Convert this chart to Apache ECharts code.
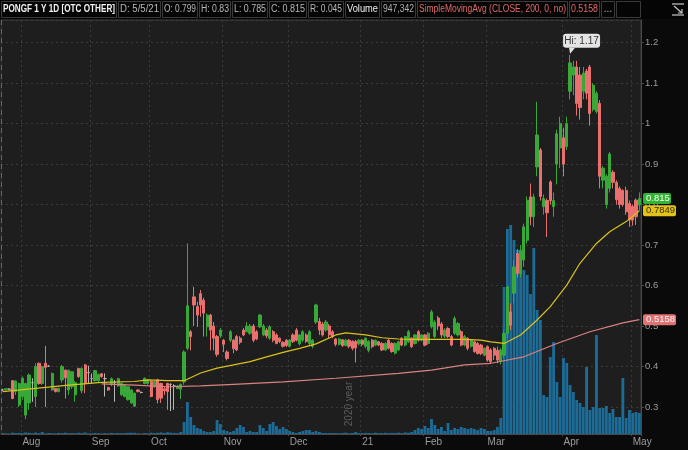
<!DOCTYPE html>
<html><head><meta charset="utf-8">
<script src="https://cdn.jsdelivr.net/npm/echarts@6/dist/echarts.min.js"></script>
<style>html,body{margin:0;padding:0;background:#0a0a0a;}#c{width:688px;height:450px;}</style>
</head><body><div id="c"></div>
<script>
// ---- data ----
// candles: [open, close, low, high], one per trading day (Jul 24 2020 .. May 5 2021)
const candles = [
[.342,.342,.340,.345],[.343,.345,.341,.346],[.344,.344,.342,.346],[.365,.321,.319,.366],[.338,.364,.330,.366],
[.305,.358,.300,.360],[.326,.371,.318,.375],[.280,.358,.270,.360],[.310,.379,.293,.383],[.360,.360,.313,.371],
[.326,.400,.300,.408],[.408,.358,.355,.410],[.358,.400,.355,.402],[.408,.398,.300,.451],[.401,.401,.399,.403],
[.342,.383,.340,.385],[.346,.338,.336,.347],[.338,.346,.336,.348],[.367,.400,.360,.404],[.391,.372,.321,.393],
[.342,.391,.330,.392],[.350,.387,.345,.389],[.330,.360,.313,.364],[.395,.375,.372,.397],[.340,.395,.334,.398],
[.404,.358,.334,.406],[.385,.385,.358,.402],[.370,.370,.358,.383],[.365,.390,.363,.392],[.365,.380,.362,.383],
[.382,.375,.372,.384],[.370,.370,.326,.383],[.348,.342,.340,.350],[.355,.370,.352,.373],[.360,.360,.313,.367],
[.352,.370,.350,.372],[.330,.358,.328,.360],[.326,.354,.324,.356],[.318,.350,.316,.352],[.310,.342,.308,.344],
[.302,.334,.300,.336],[.342,.338,.336,.344],[.336,.336,.334,.338],[.358,.371,.356,.373],[.358,.367,.355,.369],
[.363,.326,.324,.366],[.350,.363,.348,.365],[.367,.318,.309,.370],[.358,.322,.310,.360],[.345,.340,.330,.350],
[.358,.338,.293,.360],[.356,.356,.290,.358],[.352,.352,.293,.356],[.346,.352,.344,.354],[.344,.356,.320,.358],
[.362,.436,.355,.440],[.445,.550,.440,.704],[.486,.474,.440,.490],[.572,.552,.500,.597],[.548,.527,.498,.560],
[.580,.552,.523,.589],[.564,.532,.474,.570],[.498,.527,.474,.531],[.527,.490,.440,.530],[.500,.470,.440,.510],
[.474,.430,.424,.478],[.476,.490,.470,.495],[.465,.455,.436,.468],[.436,.420,.415,.440],[.465,.486,.460,.490],
[.465,.444,.433,.468],[.474,.441,.438,.478],[.470,.460,.455,.475],[.490,.478,.475,.495],[.486,.500,.484,.510],
[.482,.500,.478,.505],[.500,.465,.460,.505],[.486,.468,.465,.490],[.498,.527,.495,.530],[.478,.500,.475,.505],
[.490,.476,.470,.495],[.470,.498,.466,.502],[.486,.465,.460,.490],[.478,.457,.455,.482],[.470,.462,.458,.472],
[.460,.450,.447,.462],[.465,.452,.448,.468],[.450,.465,.447,.468],[.478,.462,.458,.482],[.490,.465,.462,.495],
[.456,.478,.452,.480],[.465,.486,.460,.490],[.478,.462,.458,.482],[.457,.486,.450,.490],[.450,.465,.445,.468],
[.510,.552,.505,.555],[.511,.490,.478,.520],[.505,.478,.474,.510],[.490,.510,.486,.515],[.500,.478,.470,.505],
[.486,.474,.470,.490],
[.468,.455,.450,.470],[.455,.468,.452,.470],[.466,.452,.448,.468],[.452,.465,.450,.468],[.465,.450,.445,.468],
[.462,.445,.440,.465],[.462,.446,.410,.466],[.456,.465,.452,.468],[.465,.455,.450,.468],[.450,.470,.445,.472],
[.440,.462,.435,.465],[.465,.449,.445,.468],[.453,.465,.450,.467],[.461,.453,.450,.463],[.457,.441,.438,.460],
[.441,.457,.438,.460],[.465,.445,.442,.468],[.457,.437,.434,.460],[.433,.457,.430,.460],[.441,.461,.438,.464],
[.470,.453,.450,.472],[.453,.474,.450,.476],[.461,.486,.458,.490],[.470,.449,.446,.472],[.457,.478,.454,.480],
[.486,.465,.461,.490],[.465,.478,.462,.480],[.478,.453,.450,.480],[.457,.482,.454,.485],[.498,.535,.494,.540],
[.474,.510,.470,.515],[.520,.500,.490,.525],[.505,.478,.470,.510],[.475,.490,.470,.495],[.494,.474,.470,.497],
[.474,.453,.450,.478],[.482,.519,.478,.524],[.478,.506,.474,.510],[.486,.453,.450,.490],[.453,.474,.450,.478],
[.470,.445,.440,.472],[.450,.465,.447,.468],[.461,.437,.434,.464],[.457,.432,.430,.460],[.453,.432,.428,.456],
[.428,.445,.425,.448],[.449,.416,.412,.452],[.441,.412,.408,.445],
[.445,.428,.416,.448],[.440,.416,.408,.449],[.412,.441,.405,.445],[.428,.482,.420,.490],[.482,.597,.470,.600],
[.535,.502,.490,.556],[.581,.646,.556,.663],[.679,.630,.620,.690],[.630,.687,.620,.700],[.663,.745,.646,.753],
[.712,.811,.704,.820],[.819,.770,.749,.852],[.770,.819,.745,.827],[.893,.972,.870,1.054],[.935,.820,.810,.940],
[.795,.815,.775,.825],[.810,.780,.720,.815],[.856,.810,.800,.860],[.795,.810,.770,.830],[.900,.975,.850,.985],
[.940,1.000,.890,1.017],[.965,.900,.870,.990],[.943,1.000,.935,1.017],[1.080,1.150,1.060,1.170],[1.120,1.140,1.070,1.155],
[1.140,1.050,1.020,1.155],[1.120,1.040,1.010,1.140],[1.080,1.125,1.060,1.140],[1.130,1.075,1.060,1.135],[1.140,1.025,.995,1.145],
[1.035,1.095,1.030,1.100],[1.030,1.075,1.025,1.080],[1.050,.870,.840,1.058],[.860,.890,.840,.895],[.800,.870,.790,.875],
[.840,.925,.830,.930],[.880,.855,.840,.885],[.855,.812,.800,.860],[.840,.800,.790,.845],[.835,.800,.795,.838],
[.835,.782,.775,.844],[.803,.762,.745,.810],[.795,.762,.748,.800],[.811,.770,.750,.815],[.799,.815,.785,.830]
];
// daily volume, thousands of shares
const volumes = [
40,25,15,60,45,50,35,70,55,30, 65,40,90,20,45,30,25,50,40,60, 35,45,30,55,40,70,25,30,45,35,
20,40,25,50,30,45,35,40,55,60, 50,25,15,45,30,60,40,55,70,45, 80,60,50,40,90,
540,1440,765,405,270,225,135,90,90,135, 630,450,180,135,90,135,270,405,315,90,
135,90,90,405,270,135,450,540,360,225, 315,225,135,90,45,90,135,180,180,90, 135,90,45,45,45,45,
45,30,45,60,30,45,90,40,35,50,45,30,60,40,45,55,35,50,45,60,40,70,55,
90,180,270,225,360,270,675,405,225,315,135,495,180,270,225,315,270,225,270,225,180,270,225,135,135,
180,315,720,6615,9225,9405,8730,8280,7830,7380,7155,6300,8370,5580,5130,1755,1665,3465,4140,2340,
1665,3420,3195,2205,1890,1530,1395,1215,3015,1080,1215,4455,1170,1170,1260,945,1125,765,765,2520,
720,1080,945,990,947.342
];
// moving averages: [bar index, value]
const sma50Pts = [[0,.338],[10,.346],[20,.354],[30,.361],[40,.363],[44,.367],[50,.365],[55,.365],[60,.384],[65,.396],
[70,.404],[75,.412],[80,.424],[85,.435],[90,.445],[95,.456],[101,.478],[104,.483],[110,.478],[115,.471],[120,.468],
[125,.467],[130,.467],[135,.467],[140,.467],[145,.465],[148,.461],[152,.457],[157,.478],[162,.515],[166,.548],
[171,.601],[175,.655],[180,.704],[184,.733],[189,.758],[193,.7849]];
const sma200Pts = [[30,.357],[40,.354],[50,.350],[60,.352],[70,.356],[85,.362],[101,.371],[120,.383],[130,.391],
[140,.404],[148,.408],[158,.424],[168,.457],[178,.486],[188,.508],[193,.5158]];
const holidays = ['2020-09-07','2020-11-26','2020-12-25','2021-01-01','2021-01-18','2021-02-15','2021-04-02'];
const noTradeDays = ['2020-09-04','2020-09-11','2020-09-18'];
const monthNames = ['Jan','Feb','Mar','Apr','May','Jun','Jul','Aug','Sep','Oct','Nov','Dec'];
const headerItems = [
 ['PONGF 1 Y 1D [OTC OTHER]',1,117,'#f2f2f2','bold'],['D: 5/5/21',118,161,'#b8b8b8'],['O: 0.799',162,198,'#b8b8b8'],
 ['H: 0.83',199,231,'#b8b8b8'],['L: 0.785',232,268,'#b8b8b8'],['C: 0.815',269,307,'#b8b8b8'],['R: 0.045',308,344,'#b8b8b8'],
 ['Volume',345,380,'#f0f0f0'],['947,342',381,416,'#b0b0b0'],['SimpleMovingAvg (CLOSE, 200, 0, no)',417,568,'#e26a6a'],
 ['0.5158',569,600,'#e26a6a'],['...',601,615,'#b0b0b0'],['',616,641,'#b0b0b0']
];

// ---- build ----
function tradingDays(){
  const out=[]; let t=Date.UTC(2020,6,24); const end=Date.UTC(2021,4,5);
  while(t<=end){ const d=new Date(t); const wd=d.getUTCDay(); const s=d.toISOString().slice(0,10);
    if(wd!==0&&wd!==6&&holidays.indexOf(s)<0&&noTradeDays.indexOf(s)<0) out.push(s); t+=864e5; }
  return out;
}
const dates = tradingDays();
const N = dates.length;
const monthStart = dates.map((d,i)=> i>0 && d.slice(5,7)!==dates[i-1].slice(5,7));
const yearStart = dates.map((d,i)=> i>0 && d.slice(0,4)!==dates[i-1].slice(0,4));
const labelFor = d => d.slice(5,7)==='01' ? d.slice(2,4) : monthNames[+d.slice(5,7)-1];
const s50 = new Array(N).fill(null); sma50Pts.forEach(p=>{s50[p[0]]=p[1];});
const s200 = new Array(N).fill(null); sma200Pts.forEach(p=>{s200[p[0]]=p[1];});

const chart = echarts.init(document.getElementById('c'), null, {renderer:'canvas'});
const FONT = '"Liberation Sans", Arial, sans-serif';
chart.setOption({
  backgroundColor:'#0a0a0a',
  animation:false,
  grid:{left:1,right:47,top:20,bottom:16,show:true,backgroundColor:'#1e1e1e',borderColor:'#3c3c3c',borderWidth:1},
  xAxis:[
    {type:'category',data:dates,boundaryGap:true,
     axisLine:{lineStyle:{color:'#4a4a4a'}},
     axisTick:{show:true,interval:(i)=>monthStart[i],length:2,lineStyle:{color:'#4a4a4a'}},
     axisLabel:{interval:(i)=>monthStart[i],formatter:labelFor,color:'#9c9c9c',fontSize:10,fontFamily:FONT,align:'left',margin:3},
     splitLine:{show:true,interval:(i)=>monthStart[i],lineStyle:{color:'#3a3a3a',type:[2,3]}}},
    {type:'category',data:dates,boundaryGap:true,position:'top',
     axisLine:{show:false},axisTick:{show:false},axisLabel:{show:false},
     splitLine:{show:true,interval:(i)=>yearStart[i],lineStyle:{color:'#666',type:[5,4]}}}
  ],
  yAxis:[
    {type:'value',position:'right',min:0.2333,max:1.256,splitNumber:10,
     axisLine:{show:true,lineStyle:{color:'#4a4a4a'}},axisTick:{show:true,length:3,lineStyle:{color:'#4a4a4a'}},
     axisLabel:{color:'#9c9c9c',fontSize:9.5,fontFamily:FONT,margin:4,showMinLabel:false,showMaxLabel:false,
       formatter:v=>String(+v.toFixed(2))},
     splitLine:{show:true,lineStyle:{color:'#3a3a3a',type:[2,3]}}},
    {type:'value',min:0,max:18630,show:false,splitLine:{show:false}}
  ],
  series:[
    {type:'bar',xAxisIndex:0,yAxisIndex:1,data:volumes,barCategoryGap:'14%',itemStyle:{color:'#1d6b97'},z:1,silent:true},
    {type:'candlestick',xAxisIndex:0,yAxisIndex:0,data:candles,barWidth:'82%',z:3,
     itemStyle:{color:'#38a838',color0:'#e8716f',borderColor:'#38a838',borderColor0:'#e8716f',borderColorDoji:'#b8b8b8',borderWidth:1}},
    {type:'line',xAxisIndex:0,yAxisIndex:0,data:s50,connectNulls:true,symbol:'none',lineStyle:{color:'#d9c21c',width:1.2},z:4},
    {type:'line',xAxisIndex:0,yAxisIndex:0,data:s200,connectNulls:true,symbol:'none',lineStyle:{color:'#d98282',width:1.2},z:4}
  ]
});

// ---- overlays ----
const mctx = document.createElement('canvas').getContext('2d');
function fitText(str,x0,x1,cy,color,size,weight){
  const font=(weight||'normal')+' '+size+'px '+FONT;
  mctx.font=font; const w=mctx.measureText(str).width||1;
  const s=Math.min(1,(x1-x0-4)/w);
  return {type:'text',x:(x0+x1)/2,y:cy,scaleX:s,z:20,style:{text:str,font:font,fill:color,align:'center',verticalAlign:'middle'}};
}
const g=[];
g.push({type:'rect',shape:{x:0,y:0,width:688,height:19},style:{fill:'#050505'},z:10});
headerItems.forEach(h=>{
  g.push({type:'rect',shape:{x:h[1]+0.5,y:1.5,width:h[2]-h[1]-1,height:16},style:{fill:'#050505',stroke:'#3a3a3a',lineWidth:1},z:11});
  if(h[0]) g.push(fitText(h[0],h[1],h[2],9.5,h[3],10,h[4]));
});
// icon top right
g.push({type:'polyline',shape:{points:[[672,4],[684,4]]},style:{stroke:'#c8c8c8',lineWidth:1.2},z:20});
g.push({type:'polyline',shape:{points:[[672,15],[684,15]]},style:{stroke:'#c8c8c8',lineWidth:1.2},z:20});
g.push({type:'polyline',shape:{points:[[674,6],[682,13]]},style:{stroke:'#c8c8c8',lineWidth:1.2},z:20});
g.push({type:'polyline',shape:{points:[[678,13],[682,13],[682,9]]},style:{stroke:'#c8c8c8',lineWidth:1.2},z:20});

function tag(val,text,bg,fg,w){
  const y=chart.convertToPixel({yAxisIndex:0},val);
  g.push({type:'rect',shape:{x:643,y:y-5.5,width:w,height:11,r:2},style:{fill:bg},z:15});
  g.push(fitText(text,643,643+w+2,y,fg,9.5));
}
tag(0.5158,'0.5158','#df7373','#fff2f2',33);
tag(0.7849,'0.7849','#e3c31a','#3a3000',33);
tag(0.815,'0.815','#33b533','#ffffff',28);

// Hi bubble
const hiIdx=172, hiVal=candles[172][3];
const hp=chart.convertToPixel({seriesIndex:1},[hiIdx,hiVal]);
g.push({type:'polygon',shape:{points:[[hp[0]-1,hp[1]-7],[hp[0]+5,hp[1]-7],[hp[0],hp[1]-1]]},style:{fill:'#e4e4e4'},z:15});
g.push({type:'rect',shape:{x:hp[0]-7,y:hp[1]-21,width:37,height:14,r:3},style:{fill:'#e4e4e4'},z:15});
g.push({type:'text',x:hp[0]+11.5,y:hp[1]-14,z:16,style:{text:'Hi: '+hiVal.toFixed(2),font:'10px '+FONT,fill:'#333',align:'center',verticalAlign:'middle'}});

// 2020 year label next to year line
const yi=yearStart.indexOf(true);
const yp=chart.convertToPixel({seriesIndex:1},[yi,0.3]);
const band=(chart.convertToPixel({seriesIndex:1},[1,0.3])[0]-chart.convertToPixel({seriesIndex:1},[0,0.3])[0]);
g.push({type:'text',x:yp[0]-band/2-11,y:404,rotation:Math.PI/2,z:6,style:{text:'2020 year',font:'10px '+FONT,fill:'#5e5e5e',align:'center',verticalAlign:'middle'}});

chart.setOption({graphic:g});
</script>
</body></html>
